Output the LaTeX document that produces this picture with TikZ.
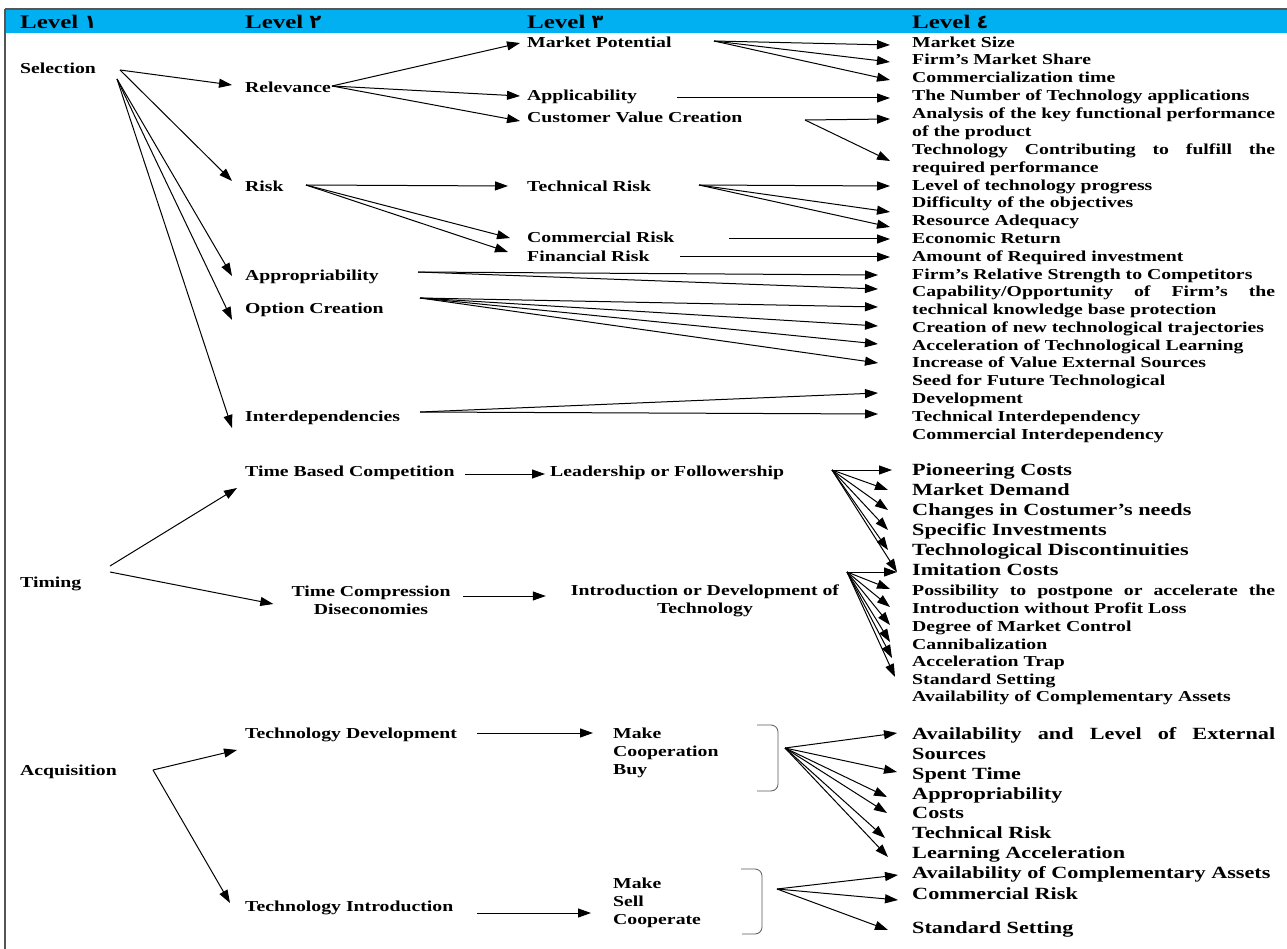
\documentclass[tikz,border=0pt]{standalone}
\usepackage{fontspec}
\setmainfont{Liberation Serif}[FakeStretch=1.3]
\newfontfamily\digfont{DejaVu Sans}
\usetikzlibrary{arrows.meta,calc}
\definecolor{hdblue}{RGB}{0,176,240}
\definecolor{framegray}{RGB}{85,85,85}

\begin{document}
\begin{tikzpicture}[x=1pt,y=-1pt,
  txt/.style={anchor=west,inner sep=0pt,text height=14pt,text depth=3pt,font=\bfseries\fontsize{15.2}{17.7}\selectfont},
  big/.style={txt,text height=15pt,text depth=3.5pt,font=\bfseries\fontsize{17.1}{20}\selectfont},
  multi/.style={inner sep=0pt,font=\bfseries\fontsize{15.2}{17.7}\selectfont},
  head/.style={anchor=base west,inner sep=0pt,font=\bfseries\fontsize{19.2}{20}\selectfont},
  arr/.style={line width=1pt,-{Triangle[length=13pt,width=9pt]}},
  brk/.style={line width=0.8pt,draw=black!65,rounded corners=7pt}]

\useasboundingbox (0,0) rectangle (1287,949);

% header row
\fill[hdblue] (5,9) rectangle (1287,33);
\draw[framegray,line width=1.5pt] (5,9) -- (1287,9);
\draw[framegray,line width=2pt] (5,9) -- (5,949);
\node[head] (hda) at (20,29) {Level {\digfont ١}};
\node[head] (hdb) at (245,29) {Level {\digfont ٢}};
\node[head] (hdc) at (527,29) {Level {\digfont ٣}};
\node[head] (hdd) at (912,29) {Level {\digfont ٤}};

% level 1
\node[txt] (sel) at (20,68) {Selection};
\node[txt] (tim) at (20,582) {Timing};
\node[txt] (acq) at (20,770) {Acquisition};

% level 2
\node[txt] (relev) at (245,87) {Relevance};
\node[txt] (risk) at (245,186) {Risk};
\node[txt] (approp) at (245,275) {Appropriability};
\node[txt] (option) at (245,308) {Option Creation};
\node[txt] (interd) at (245,416) {Interdependencies};
\node[txt] (tbc) at (245,471) {Time Based Competition};
\node[multi,align=center] (tcd) at (371,600) {Time Compression\\Diseconomies};
\node[txt] (tdev) at (245,733) {Technology Development};
\node[txt] (tint) at (245,906) {Technology Introduction};

% level 3
\node[txt] (mpot) at (527,42) {Market Potential};
\node[txt] (appl) at (527,95) {Applicability};
\node[txt] (cvc) at (527,117) {Customer Value Creation};
\node[txt] (trisk) at (527,186) {Technical Risk};
\node[txt] (crisk) at (527,237) {Commercial Risk};
\node[txt] (frisk) at (527,256) {Financial Risk};
\node[txt] (lead) at (550,471) {Leadership or Followership};
\node[multi,align=center] (intro) at (705,601) {Introduction or Development of\\Technology};
\node[multi,align=left,anchor=north west,font=\bfseries\fontsize{15.2}{18}\selectfont] (mcb) at (613,728) {Make\\Cooperation\\Buy};
\node[multi,align=left,anchor=north west,font=\bfseries\fontsize{15.2}{18}\selectfont] (msc) at (613,878) {Make\\Sell\\Cooperate};

\draw[brk] (757,725) -- (778,725) -- (778,791) -- (757,791);
\draw[brk] (741,869) -- (762,869) -- (762,934) -- (742,934);

% level 4, selection
\node[txt] (msize) at (912,42) {Market Size};
\node[txt] (mshare) at (912,59) {Firm’s Market Share};
\node[txt] (ctime) at (912,77) {Commercialization time};
\node[txt] (napps) at (912,95) {The Number of Technology applications};
\node[txt] (kfpa) at (912,113) {\makebox[363pt][s]{Analysis of the key functional performance}};
\node[txt] (kfpb) at (912,131) {of the product};
\node[txt] (tcfra) at (912,149) {\makebox[363pt][s]{Technology Contributing to fulfill the}};
\node[txt] (tcfrb) at (912,167) {required performance};
\node[txt] (techprog) at (912,185) {Level of technology progress};
\node[txt] (diffobj) at (912,202) {Difficulty of the objectives};
\node[txt] (resadq) at (912,220) {Resource Adequacy};
\node[txt] (econret) at (912,238) {Economic Return};
\node[txt] (reqinv) at (912,256) {Amount of Required investment};
\node[txt] (relstr) at (912,274) {Firm’s Relative Strength to Competitors};
\node[txt] (kbprota) at (912,291) {\makebox[363pt][s]{Capability/Opportunity of Firm’s the}};
\node[txt] (kbprotb) at (912,309) {technical knowledge base protection};
\node[txt] (newtraj) at (912,327) {Creation of new technological trajectories};
\node[txt] (acclearn) at (912,345) {Acceleration of Technological Learning};
\node[txt] (extsrc) at (912,362) {Increase of Value External Sources};
\node[txt] (seeda) at (912,380) {Seed for Future Technological};
\node[txt] (seedb) at (912,398) {Development};
\node[txt] (techint) at (912,416) {Technical Interdependency};
\node[txt] (commint) at (912,434) {Commercial Interdependency};

% level 4, timing
\node[big] (pion) at (912,470) {Pioneering Costs};
\node[big] (mdem) at (912,490) {Market Demand};
\node[big] (cneeds) at (912,510) {Changes in Costumer’s needs};
\node[big] (specinv) at (912,530) {Specific Investments};
\node[big] (tdisc) at (912,550) {Technological Discontinuities};
\node[big] (imit) at (912,570) {Imitation Costs};
\node[txt] (posta) at (912,590) {\makebox[363pt][s]{Possibility to postpone or accelerate the}};
\node[txt] (postb) at (912,608) {Introduction without Profit Loss};
\node[txt] (mctrl) at (912,626) {Degree of Market Control};
\node[txt] (cannib) at (912,644) {Cannibalization};
\node[txt] (acctrap) at (912,661) {Acceleration Trap};
\node[txt] (stdset) at (912,679) {Standard Setting};
\node[txt] (compl) at (912,696) {Availability of Complementary Assets};

% level 4, acquisition
\node[big] (exta) at (912,734) {\makebox[363pt][s]{Availability and Level of External}};
\node[big] (extb) at (912,754) {Sources};
\node[big] (spent) at (912,774) {Spent Time};
\node[big] (appr) at (912,794) {Appropriability};
\node[big] (costs) at (912,813) {Costs};
\node[big] (triskb) at (912,833) {Technical Risk};
\node[big] (learn) at (912,853) {Learning Acceleration};
\node[big] (complb) at (912,873) {Availability of Complementary Assets};
\node[big] (criskb) at (912,894) {Commercial Risk};
\node[big] (stdsetb) at (912,928) {Standard Setting};

% fan points
\coordinate (selfa) at (120,70);
\coordinate (selfb) at (117,79);
\coordinate (relfan) at (332,86);
\coordinate (riskfan) at (306,185);
\coordinate (mpfan) at (714,41);
\coordinate (applend) at (677,98);
\coordinate (cvcfan) at (805,120);
\coordinate (trfan) at (699,185);
\coordinate (crend) at (729,239);
\coordinate (frend) at (680,257);
\coordinate (apfan) at (418,272);
\coordinate (opfan) at (420,298);
\coordinate (infan) at (420,412);
\coordinate (timfa) at (110,566);
\coordinate (timfb) at (110,572);
\coordinate (tbcend) at (465,474);
\coordinate (tcdend) at (463,596);
\coordinate (leadfan) at (832,470);
\coordinate (introfan) at (847,572);
\coordinate (acqfan) at (153,770);
\coordinate (tdevend) at (477,733);
\coordinate (tintend) at (477,913);
\coordinate (bkfana) at (785,748);
\coordinate (bkfanb) at (777,889);

% selection
\draw[arr] (selfa) -- ($(relev.west)+(-13,-2)$);
\draw[arr] (selfa) -- ($(risk.west)+(-13,-5)$);
\draw[arr] (selfb) -- ($(approp.west)+(-13,1)$);
\draw[arr] (selfb) -- ($(option.west)+(-13,12)$);
\draw[arr] (selfb) -- ($(interd.west)+(-13,12)$);

\draw[arr] (relfan) -- ($(mpot.west)+(-7,1)$);
\draw[arr] (relfan) -- ($(appl.west)+(-7,1)$);
\draw[arr] (relfan) -- ($(cvc.west)+(-7,4)$);
\draw[arr] (riskfan) -- ($(trisk.west)+(-19,0)$);
\draw[arr] (riskfan) -- ($(crisk.west)+(-17,1)$);
\draw[arr] (riskfan) -- ($(frisk.west)+(-19,-4)$);

\draw[arr] (mpfan) -- ($(msize.west)+(-22,3)$);
\draw[arr] (mpfan) -- ($(mshare.west)+(-22,3)$);
\draw[arr] (mpfan) -- ($(ctime.west)+(-22,3)$);
\draw[arr] (applend) -- ($(napps.west)+(-22,3)$);
\draw[arr] (cvcfan) -- ($(kfpa.west)+(-22,6)$);
\draw[arr] (cvcfan) -- ($(tcfra.west)+(-22,12)$);
\draw[arr] (trfan) -- ($(techprog.west)+(-22,1)$);
\draw[arr] (trfan) -- ($(diffobj.west)+(-22,10)$);
\draw[arr] (trfan) -- ($(resadq.west)+(-22,7)$);
\draw[arr] (crend) -- ($(econret.west)+(-22,1)$);
\draw[arr] (frend) -- ($(reqinv.west)+(-22,1)$);

\draw[arr] (apfan) -- ($(relstr.west)+(-34,1)$);
\draw[arr] (apfan) -- ($(kbprota.west)+(-34,-2)$);
\draw[arr] (opfan) -- ($(kbprotb.west)+(-34,-2)$);
\draw[arr] (opfan) -- ($(newtraj.west)+(-34,-1)$);
\draw[arr] (opfan) -- ($(acclearn.west)+(-34,-1)$);
\draw[arr] (opfan) -- ($(extsrc.west)+(-34,1)$);
\draw[arr] (infan) -- ($(seedb.west)+(-34,-5)$);
\draw[arr] (infan) -- ($(techint.west)+(-34,-2)$);

% timing
\draw[arr] (timfa) -- ($(tbc.west)+(-8,17)$);
\draw[arr] (timfb) -- ($(tcd.west)+(-18,4)$);
\draw[arr] (tbcend) -- ($(lead.west)+(-5,3)$);
\draw[arr] (tcdend) -- ($(intro.west)+(-25,-5)$);

\draw[arr] (leadfan) -- ($(pion.west)+(-20,0)$);
\draw[arr] (leadfan) -- ($(mdem.west)+(-24,0)$);
\draw[arr] (leadfan) -- ($(cneeds.west)+(-24,0)$);
\draw[arr] (leadfan) -- ($(specinv.west)+(-24,0)$);
\draw[arr] (leadfan) -- ($(tdisc.west)+(-24,0)$);
\draw[arr] (leadfan) -- ($(imit.west)+(-15,2)$);

\draw[arr] (introfan) -- ($(imit.west)+(-15,2)$);
\draw[arr] (introfan) -- ($(posta.west)+(-22,-1)$);
\draw[arr] (introfan) -- ($(postb.west)+(-22,-1)$);
\draw[arr] (introfan) -- ($(mctrl.west)+(-22,-1)$);
\draw[arr] (introfan) -- ($(cannib.west)+(-22,-2)$);
\draw[arr] (introfan) -- ($(acctrap.west)+(-20,-3)$);
\draw[arr] (introfan) -- ($(stdset.west)+(-17,-2)$);

% acquisition
\draw[arr] (acqfan) -- ($(tdev.west)+(-8,17)$);
\draw[arr] (acqfan) -- ($(tint.west)+(-15,-3)$);
\draw[arr] (tdevend) -- ($(mcb.north west)+(-20,5)$);
\draw[arr] (tintend) -- ($(msc.north west)+(-22,35)$);

\draw[arr] (bkfana) -- ($(exta.west)+(-15,-1)$);
\draw[arr] (bkfana) -- ($(spent.west)+(-15,-2)$);
\draw[arr] (bkfana) -- ($(appr.west)+(-25,3)$);
\draw[arr] (bkfana) -- ($(costs.west)+(-25,0)$);
\draw[arr] (bkfana) -- ($(triskb.west)+(-27,5)$);
\draw[arr] (bkfana) -- ($(learn.west)+(-24,4)$);
\draw[arr] (bkfanb) -- ($(complb.west)+(-14,2)$);
\draw[arr] (bkfanb) -- ($(criskb.west)+(-14,6)$);
\draw[arr] (bkfanb) -- ($(stdsetb.west)+(-24,2)$);

\end{tikzpicture}
\end{document}
